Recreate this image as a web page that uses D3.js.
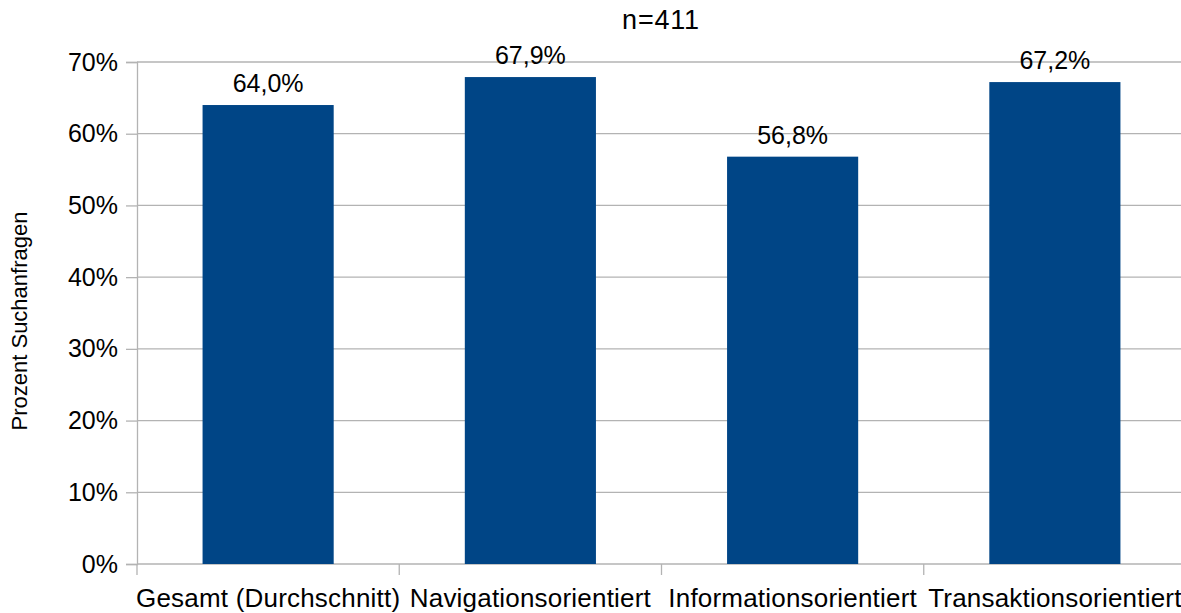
<!DOCTYPE html>
<html>
<head>
<meta charset="utf-8">
<script src="https://cdn.jsdelivr.net/npm/d3@7"></script>
<style>
  html, body { margin: 0; padding: 0; background: #fff; }
  svg { display: block; font-family: "Liberation Sans", Arial, sans-serif; }
</style>
</head>
<body>
<svg id="chart" width="1181" height="613"></svg>
<script>
// Anteil der Suchanfragen je Anfragetyp
const categories = ["Gesamt (Durchschnitt)", "Navigationsorientiert", "Informationsorientiert", "Transaktionsorientiert"];
const values = [64.0, 67.9, 56.8, 67.2];
const yTicks = [0, 10, 20, 30, 40, 50, 60, 70];
const chartTitle = "n=411";
const yAxisTitle = "Prozent Suchanfragen";

(function () {
  const svg = d3.select("#chart");
  const plotLeft = 137, plotRight = 1186, plotTop = 62, plotBottom = 564;
  const gridColor = "#b3b3b3";
  const barColor = "#004586";

  const x = d3.scaleBand().domain(categories).range([plotLeft, plotRight]).paddingInner(0.5).paddingOuter(0.25);
  const y = d3.scaleLinear().domain([0, 70]).range([plotBottom, plotTop]);

  // horizontal grid lines
  svg.append("g").selectAll("line").data(yTicks).join("line")
    .attr("x1", plotLeft).attr("x2", plotRight)
    .attr("y1", d => y(d)).attr("y2", d => y(d))
    .attr("stroke", gridColor).attr("stroke-width", 1.3);

  // y axis
  const yAxis = d3.axisLeft(y).tickValues(yTicks).tickSize(11).tickPadding(8).tickFormat(d => d + "%");
  const gy = svg.append("g").attr("transform", `translate(${plotLeft},0)`).call(yAxis);
  gy.select(".domain").attr("stroke", gridColor).attr("stroke-width", 1.3);
  gy.selectAll(".tick line").attr("stroke", gridColor).attr("stroke-width", 1.3);
  gy.selectAll(".tick text").attr("fill", "#000").style("font-size", "25px")
    .style("font-family", "'Liberation Sans', Arial, sans-serif");

  // x axis: tick marks sit at the category boundaries
  const gx = svg.append("g");
  gx.selectAll("line").data(categories).join("line")
    .attr("x1", d => x(d) - x.step() * 0.25)
    .attr("x2", d => x(d) - x.step() * 0.25)
    .attr("y1", plotBottom).attr("y2", plotBottom + 11)
    .attr("stroke", gridColor).attr("stroke-width", 1.3);
  gx.selectAll("text").data(categories).join("text")
    .attr("x", d => x(d) + x.bandwidth() / 2)
    .attr("y", 607)
    .attr("text-anchor", "middle")
    .style("font-size", "26px")
    .style("letter-spacing", "0.2px")
    .text(d => d);

  // bars
  svg.append("g").selectAll("rect").data(values).join("rect")
    .attr("x", (d, i) => x(categories[i]))
    .attr("y", d => y(d))
    .attr("width", x.bandwidth())
    .attr("height", d => plotBottom - y(d))
    .attr("fill", barColor);

  // value labels
  svg.append("g").selectAll("text").data(values).join("text")
    .attr("x", (d, i) => x(categories[i]) + x.bandwidth() / 2)
    .attr("y", d => y(d) - 13)
    .attr("text-anchor", "middle")
    .style("font-size", "25px")
    .text(d => d.toFixed(1).replace(".", ",") + "%");

  // title
  svg.append("text")
    .attr("x", 661).attr("y", 29)
    .attr("text-anchor", "middle")
    .style("font-size", "27px")
    .style("letter-spacing", "0.8px")
    .text(chartTitle);

  // y axis title
  svg.append("text")
    .attr("transform", "translate(27,321) rotate(-90)")
    .attr("text-anchor", "middle")
    .style("font-size", "22px")
    .text(yAxisTitle);
})();
</script>
</body>
</html>
